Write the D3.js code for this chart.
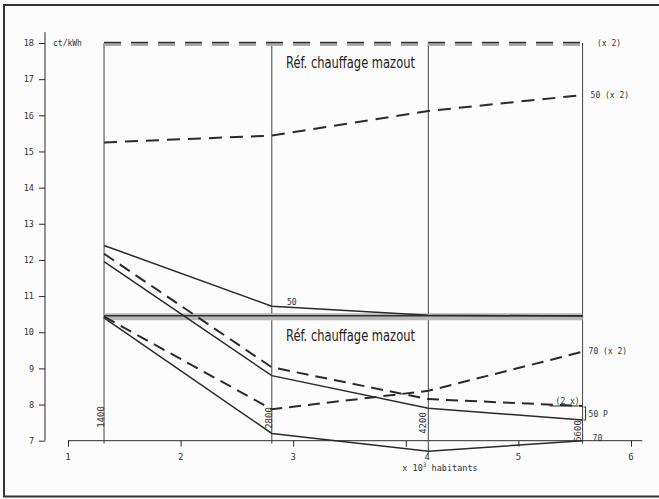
<!DOCTYPE html>
<html><head><meta charset="utf-8">
<script src="https://cdn.jsdelivr.net/npm/d3@7/dist/d3.min.js"></script>
<style>
html,body{margin:0;padding:0;background:#fcfcfc;}
svg{display:block;}
.mono{font-family:"DejaVu Sans Mono",monospace;fill:#333;}
.cond{font-family:"DejaVu Sans Condensed","Liberation Sans Narrow","DejaVu Sans",sans-serif;fill:#222;}
</style></head><body>
<svg id="c" width="659" height="499"></svg>
<script>
// ---- data ----
const populations = [1400, 2800, 4200, 5600];          // habitants (vertical lines)
const popAxisPos = [1.32, 2.81, 4.2, 5.57];           // where those lines sit on the x axis (x 10^3)
const xTickValues = [1, 2, 3, 4, 5, 6];
const xTickLabelPos = [1, 2, 3, 4.19, 5, 6];
const yTickValues = [7, 8, 9, 10, 11, 12, 13, 14, 15, 16, 17, 18];
const refTop = 18;          // Réf. chauffage mazout (x 2)
const refBottom = 10.43;    // Réf. chauffage mazout
const s50x2 = [15.25, 15.44, 16.12, 16.56];   // dashed "50 (x 2)"
const s50   = [12.4, 10.72, 10.47, 10.45];    // solid "50"
const s2x   = [12.17, 9.03, 8.15, 7.96];      // dashed "(2 x)"
const s50P  = [11.95, 8.8, 7.9, 7.57];        // solid "50 P"
const s70x2 = [10.43, 7.87, 8.38, 9.46];      // dashed "70 (x 2)"
const s70   = [10.4, 7.2, 6.71, 7.0];         // solid "70"
const refLabel = "Réf. chauffage mazout";

const svg = d3.select("#c");
const x = d3.scaleLinear().domain([1, 6]).range([68, 631]);
const y = d3.scaleLinear().domain([7, 18]).range([440.7, 43]);
const ink = "#2a2a2a";

// frame
svg.append("rect").attr("x", 4).attr("y", 5).attr("width", 720).attr("height", 491.5)
  .attr("fill", "none").attr("stroke", "#333").attr("stroke-width", 2);

// y axis
const yAxisX = 45;
const gy = svg.append("g").attr("transform", `translate(${yAxisX},0)`)
  .call(d3.axisLeft(y).tickValues(yTickValues).tickSize(6).tickPadding(5).tickFormat(d3.format("d")));
gy.select(".domain").remove();
gy.selectAll(".tick line").attr("stroke", ink).attr("stroke-width", 1);
gy.selectAll(".tick text").attr("class", "mono").attr("font-size", 8.5).attr("font-family", "DejaVu Sans Mono");
gy.append("line").attr("x1", 0).attr("x2", 0).attr("y1", y(18.3)).attr("y2", y(7))
  .attr("stroke", ink).attr("stroke-width", 1);
svg.append("text").attr("class", "mono").attr("font-size", 8)
  .attr("x", 53).attr("y", y(18) + 3).text("ct/kWh");

// x axis
const gx = svg.append("g").attr("transform", `translate(0,${y(7)})`)
  .call(d3.axisBottom(x).tickValues(xTickValues).tickSize(6).tickFormat(""));
gx.select(".domain").remove();
gx.selectAll(".tick line").attr("stroke", ink).attr("stroke-width", 1);
gx.append("line").attr("x1", x(1)).attr("x2", x(6.1)).attr("y1", 0).attr("y2", 0)
  .attr("stroke", ink).attr("stroke-width", 1);
gx.selectAll(".xl").data(xTickValues).enter().append("text")
  .attr("class", "mono").attr("font-size", 9).attr("text-anchor", "middle")
  .attr("x", (d, i) => x(xTickLabelPos[i])).attr("y", 19).text(d => d);
const hab = gx.append("text").attr("class", "mono").attr("font-size", 8.5)
  .attr("x", 440).attr("y", 30);
hab.append("tspan").text("x 10");
hab.append("tspan").attr("dy", -4).attr("font-size", 6).text("3");
hab.append("tspan").attr("dy", 4).text(" habitants");

// vertical population lines
populations.forEach((p, i) => {
  const xv = x(popAxisPos[i]);
  const low = Math.min(7, s70[i]);
  svg.append("line").attr("x1", xv).attr("x2", xv).attr("y1", y(refTop)).attr("y2", y(low) + 3)
    .attr("stroke", "#444").attr("stroke-width", 1);
  svg.append("text").attr("class", "mono").attr("font-size", 9).attr("text-anchor", "middle")
    .attr("transform", `translate(${xv - [0, 0, 2, 2][i]},${[417, 418, 423, 431][i]}) rotate(-90)`)
    .text(p);
});

// reference lines
const xs = popAxisPos.map(v => x(v));
const x0 = xs[0], x1 = xs[xs.length - 1];
// top dashed reference (x 2)
svg.append("line").attr("x1", x0).attr("x2", x1).attr("y1", y(refTop) + 1).attr("y2", y(refTop) + 1)
  .attr("stroke", "#a9a9a9").attr("stroke-width", 4).attr("stroke-dasharray", "17,10");
svg.append("line").attr("x1", x0).attr("x2", x1).attr("y1", y(refTop) - 0.5).attr("y2", y(refTop) - 0.5)
  .attr("stroke", "#333").attr("stroke-width", 1.6).attr("stroke-dasharray", "17,10");
svg.append("text").attr("class", "mono").attr("font-size", 8)
  .attr("x", 597).attr("y", y(refTop) + 3).text("(x 2)");
// bottom reference band
svg.append("line").attr("x1", x0).attr("x2", x1).attr("y1", y(refBottom)).attr("y2", y(refBottom))
  .attr("stroke", "#b8b8b8").attr("stroke-width", 7);
svg.append("line").attr("x1", x0).attr("x2", x1).attr("y1", y(refBottom) - 1).attr("y2", y(refBottom) - 1)
  .attr("stroke", "#333").attr("stroke-width", 1.6);

// reference labels
[[refTop, 24.5], [refBottom, 24.5]].forEach(([v, dy]) => {
  svg.append("text").attr("class", "cond").attr("font-size", 15)
    .attr("x", 286).attr("y", y(v) + dy)
    .attr("textLength", 129).attr("lengthAdjust", "spacingAndGlyphs").text(refLabel);
});

// series
const line = d3.line().x((d, i) => xs[i]).y(d => y(d));
const series = [
  {v: s50x2, dash: "13,8", w: 2},
  {v: s50, dash: null, w: 1.5},
  {v: s2x, dash: "12,7", w: 2},
  {v: s50P, dash: null, w: 1.5},
  {v: s70x2, dash: "12,7", w: 2},
  {v: s70, dash: null, w: 1.5}
];
series.forEach(s => {
  svg.append("path").datum(s.v).attr("d", line)
    .attr("fill", "none").attr("stroke", ink).attr("stroke-width", s.w)
    .attr("stroke-dasharray", s.dash);
});

// series labels
const lastX = xs[3];
svg.append("text").attr("class", "mono").attr("font-size", 8)
  .attr("x", lastX + 8).attr("y", y(s50x2[3]) + 3).text("50 (x 2)");
svg.append("text").attr("class", "mono").attr("font-size", 8)
  .attr("x", lastX + 6).attr("y", y(s70x2[3]) + 2).text("70 (x 2)");
svg.append("text").attr("class", "mono").attr("font-size", 8)
  .attr("x", 287).attr("y", y(s50[1]) - 1).text("50");
svg.append("text").attr("class", "mono").attr("font-size", 8)
  .attr("x", lastX + 10).attr("y", y(s70[3])).text("70");
// (2 x) underlined
svg.append("text").attr("class", "mono").attr("font-size", 8)
  .attr("x", lastX - 27).attr("y", y(s2x[3]) - 2).text("(2 x)");
svg.append("line").attr("x1", lastX - 33).attr("x2", lastX - 4)
  .attr("y1", y(s2x[3])).attr("y2", y(s2x[3])).attr("stroke", ink).attr("stroke-width", 1);
// bracket 50 P
const bTop = y(s2x[3]) + 1, bBot = y(s50P[3]);
svg.append("path")
  .attr("d", `M${lastX + 1},${bTop} L${lastX + 3},${bTop} L${lastX + 3},${bBot} L${lastX + 1},${bBot}`)
  .attr("fill", "none").attr("stroke", ink).attr("stroke-width", 1);
svg.append("text").attr("class", "mono").attr("font-size", 8)
  .attr("x", lastX + 6).attr("y", (bTop + bBot) / 2 + 3).text("50 P");
</script>
</body></html>
